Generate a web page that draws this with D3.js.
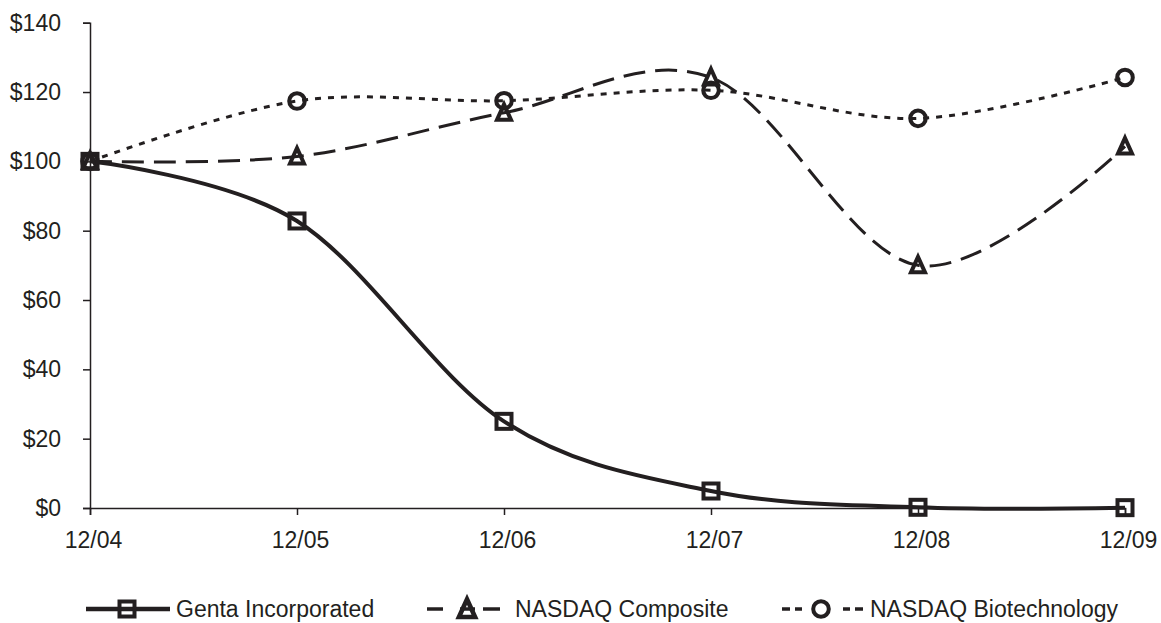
<!DOCTYPE html>
<html>
<head>
<meta charset="utf-8">
<script src="https://cdn.jsdelivr.net/npm/d3@7"></script>
<style>
body{margin:0;background:#fff;}
text{font-family:"Liberation Sans",Arial,sans-serif;fill:#231f20;}
</style>
</head>
<body>
<div class="canvas"></div>
<script>
// data
const periods=['12/04','12/05','12/06','12/07','12/08','12/09'];
const genta=[100,82.8,25,4.9,0.2,0.1];
const composite=[100,101.4,114,124.2,70,104.3];
const biotech=[100,117.4,117.5,120.5,112.4,124.2];
const yTicks=[0,20,40,60,80,100,120,140];

const W=1161,H=623;
const svg=d3.select('.canvas').append('svg')
  .attr('width',W).attr('height',H);

const margin={top:22.7,left:90,right:36,bottom:115};
const ink='#231f20';
const font='"Liberation Sans",Arial,sans-serif';

const x=d3.scalePoint().domain(periods).range([margin.left,W-margin.right]);
const y=d3.scaleLinear().domain([0,140]).range([H-margin.bottom,margin.top]);

//axes
const yAxis=svg.append('g').attr('transform',`translate(${margin.left},0)`)
  .call(d3.axisLeft(y).tickValues(yTicks).tickSize(7).tickPadding(22).tickFormat(d=>'$'+d));
const xAxis=svg.append('g').attr('transform',`translate(0,${y(0)})`)
  .call(d3.axisBottom(x).tickSize(7).tickPadding(17));
[yAxis,xAxis].forEach(a=>{
  a.select('.domain').attr('stroke',ink).attr('stroke-width',1.5);
  a.selectAll('.tick line').attr('stroke',ink).attr('stroke-width',1.5);
  a.selectAll('text').attr('font-size',23).attr('font-family',font).attr('fill',ink);
});
xAxis.selectAll('text').attr('dx',3);

const series=[
  {name:'Genta Incorporated',values:genta,dash:null,width:4,marker:'square'},
  {name:'NASDAQ Composite',values:composite,dash:'22,10',width:3,marker:'triangle'},
  {name:'NASDAQ Biotechnology',values:biotech,dash:'6,7',width:3,marker:'circle'}
];

const line=d3.line()
  .x((d,i)=>x(periods[i]))
  .y(d=>y(d))
  .curve(d3.curveCardinal.tension(0));

const drawMarker=(g,type)=>{
  if(type==='square'){
    g.append('rect').attr('x',-7.5).attr('y',-7.5).attr('width',15).attr('height',15)
      .attr('fill','none').attr('stroke',ink).attr('stroke-width',4);
  }else if(type==='triangle'){
    g.append('path').attr('d','M0,-8.5L7,7L-7,7Z')
      .attr('fill','none').attr('stroke',ink).attr('stroke-width',4).attr('stroke-linejoin','miter');
  }else{
    g.append('circle').attr('r',7.8)
      .attr('fill','none').attr('stroke',ink).attr('stroke-width',4);
  }
};

series.slice().reverse().forEach(s=>{
  svg.append('path').datum(s.values)
    .attr('d',line)
    .attr('fill','none')
    .attr('stroke',ink)
    .attr('stroke-width',s.width)
    .attr('stroke-dasharray',s.dash);
  s.values.forEach((v,i)=>{
    const g=svg.append('g').attr('transform',`translate(${x(periods[i])},${y(v)})`);
    drawMarker(g,s.marker);
  });
});

//legend: each key is drawn as little line pieces around the marker
const legendY=609;
const legendKeys=[
  {x:86,marker:41,segs:[[0,84]],w:4.5,text:90},
  {x:427,marker:40,segs:[[0,16],[33,48],[56,73]],w:3.5,text:88},
  {x:782,marker:39,segs:[[0,8],[13,20],[61,68],[73,81]],w:3.5,text:88}
];
series.forEach((s,i)=>{
  const k=legendKeys[i];
  const g=svg.append('g').attr('transform',`translate(${k.x},${legendY})`);
  k.segs.forEach(sg=>{
    g.append('line').attr('x1',sg[0]).attr('x2',sg[1]).attr('y1',0).attr('y2',0)
      .attr('stroke',ink).attr('stroke-width',k.w);
  });
  const m=g.append('g').attr('transform',`translate(${k.marker},0)`);
  if(s.marker==='triangle') m.attr('transform',`translate(${k.marker},0) scale(1.15)`);
  drawMarker(m,s.marker);
  g.append('text').attr('x',k.text).attr('y',8).attr('font-size',23).text(s.name);
});
</script>
</body>
</html>
